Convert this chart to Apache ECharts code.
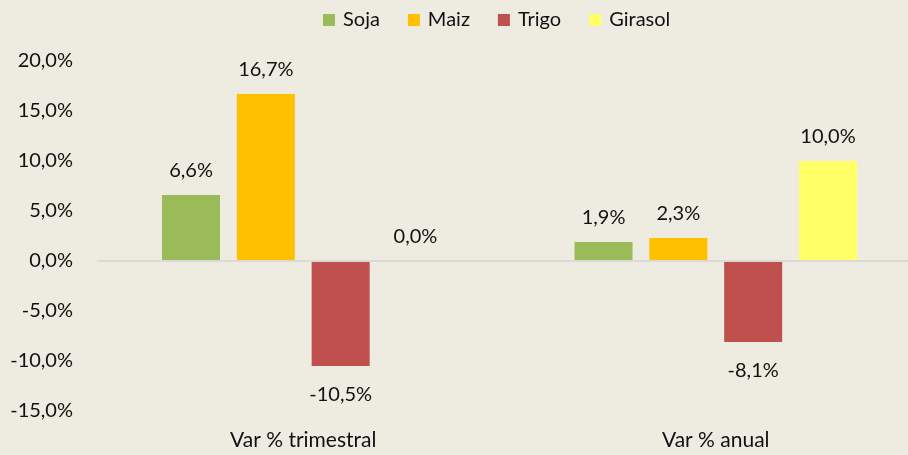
<!DOCTYPE html>
<html>
<head>
<meta charset="utf-8">
<script src="https://cdn.jsdelivr.net/npm/echarts@6/dist/echarts.min.js"></script>
<style>
  html, body { margin: 0; padding: 0; background: #EEEBE0; overflow: hidden; }
  #marco { width: 908px; height: 455px; overflow: hidden; }
  #main { width: 930px; height: 455px; }
</style>
</head>
<body>
<div id="marco"><div id="main"></div></div>
<script>
// datos
var categorias = ['Var % trimestral', 'Var % anual'];
var soja = [6.6, 1.9];
var maiz = [16.7, 2.3];
var trigo = [-10.5, -8.1];
var girasol = [0.0, 10.0];
var ejeMin = -15, ejeMax = 20, ejePaso = 5;

var colores = {
  Soja: '#9BBB59',
  Maiz: '#FFC000',
  Trigo: '#C0504D',
  Girasol: '#FFFF66'
};

function pct(v) {
  return v.toFixed(1).replace('.', ',') + '%';
}

// etiqueta arriba si es positivo, abajo si es negativo
function conEtiquetas(valores) {
  return valores.map(function (v) {
    return {
      value: v,
      label: v < 0 ? { position: 'bottom', distance: 19 } : { position: 'top', distance: 14 }
    };
  });
}

function serie(nombre, valores) {
  return {
    name: nombre,
    type: 'bar',
    barWidth: 58,
    barGap: '29%',
    itemStyle: { color: colores[nombre] },
    label: {
      show: true,
      color: '#111',
      fontFamily: 'Lato',
      fontSize: 20,
      formatter: function (p) { return pct(p.value); }
    },
    data: conEtiquetas(valores)
  };
}

var myChart = echarts.init(document.getElementById('main'));

var series = [
  serie('Soja', soja),
  serie('Maiz', maiz),
  serie('Trigo', trigo),
  serie('Girasol', girasol)
];
// linea del cero
series[0].markLine = {
  silent: true,
  symbol: 'none',
  label: { show: false },
  lineStyle: { color: '#D9D9D9', width: 2, type: 'solid' },
  data: [{ yAxis: 0 }]
};

var option = {
  backgroundColor: '#EEEBE0',
  animation: false,
  legend: {
    top: 5,
    left: 318,
    itemWidth: 12,
    itemHeight: 12,
    itemGap: 28,
    icon: 'rect',
    textStyle: { fontFamily: 'Lato', fontSize: 20, color: '#111', padding: [0, 0, 0, 3] },
    data: ['Soja', 'Maiz', 'Trigo', 'Girasol']
  },
  grid: {
    left: 97,
    right: 8,
    top: 61,
    bottom: 44,
    containLabel: false
  },
  xAxis: {
    type: 'category',
    data: categorias,
    axisLine: { show: false, onZero: false },
    axisTick: { show: false },
    axisLabel: { fontFamily: 'Lato', fontSize: 21, color: '#111', margin: 19 }
  },
  yAxis: {
    type: 'value',
    min: ejeMin,
    max: ejeMax,
    interval: ejePaso,
    splitLine: { show: false },
    axisLine: { show: false },
    axisTick: { show: false },
    axisLabel: {
      fontFamily: 'Lato',
      fontSize: 20,
      color: '#111',
      margin: 24,
      formatter: function (v) { return pct(v); }
    }
  },
  series: series
};

myChart.setOption(option);
</script>
</body>
</html>
